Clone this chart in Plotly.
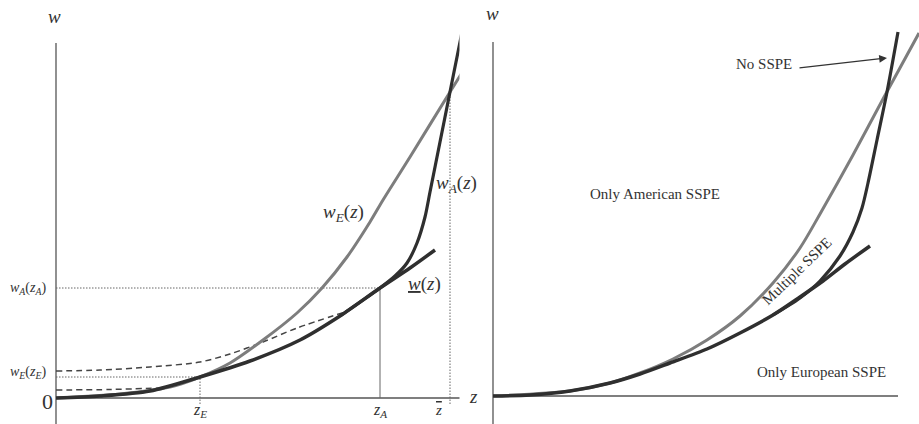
import plotly.graph_objects as go

# ---- left panel: z on the horizontal axis, w on the vertical axis ----
z_low = [0, 0.44, 0.94, 1.44, 1.94, 2.44, 2.84, 3.24, 3.54, 3.79]
w_low = [0, 0.02, 0.07, 0.21, 0.37, 0.58, 0.82, 1.10, 1.30, 1.48]

z_A_curve = [2.84, 3.24, 3.39, 3.51, 3.61, 3.69, 3.74, 3.84, 3.94, 4.01, 4.08]
w_A_curve = [0.82, 1.10, 1.22, 1.35, 1.55, 1.81, 2.06, 2.56, 3.06, 3.41, 3.76]

z_E_curve = [0, 0.64, 1.14, 1.44, 1.74, 2.07, 2.41, 2.66, 2.91, 3.14, 3.27, 3.54, 3.94, 4.17]
w_E_curve = [0, 0.04, 0.11, 0.21, 0.35, 0.58, 0.85, 1.10, 1.41, 1.76, 1.98, 2.41, 3.06, 3.43]

z_dash_hi = [0, 0.44, 0.94, 1.44, 1.74, 2.07, 2.41, 2.89]
w_dash_hi = [0.27, 0.28, 0.31, 0.36, 0.44, 0.56, 0.70, 0.86]

z_dash_lo = [0, 0.54, 1.04]
w_dash_lo = [0.08, 0.085, 0.10]

z_E, z_A, z_bar = 1.44, 3.24, 3.94
wE_zE, wA_zA, w_bar = 0.21, 1.10, 3.06

# ---- right panel ----
r_z_low = [0, 0.37, 0.77, 1.17, 1.47, 1.77, 2.14, 2.47, 2.80, 3.07, 3.30, 3.52, 3.77]
r_w_low = [0, 0.01, 0.05, 0.13, 0.22, 0.33, 0.47, 0.63, 0.81, 0.99, 1.15, 1.32, 1.50]

r_z_grey = [0, 0.77, 1.17, 1.47, 1.80, 2.14, 2.47, 2.80, 3.07, 3.27, 3.60, 3.90, 4.26]
r_w_grey = [0, 0.05, 0.13, 0.23, 0.37, 0.56, 0.80, 1.13, 1.48, 1.82, 2.41, 2.97, 3.63]

r_z_steep = [2.80, 3.07, 3.27, 3.47, 3.60, 3.69, 3.75, 3.84, 3.94, 4.05]
r_w_steep = [0.81, 0.98, 1.15, 1.40, 1.64, 1.88, 2.13, 2.56, 3.04, 3.64]

DARK = "#2f2f2f"
GREY = "#7d7d7d"
TXT = "#333333"
SERIF = "Liberation Serif, Times New Roman, serif"

fig = go.Figure()


def curve(x, y, color, width, axes, dash="solid", shape="spline"):
    fig.add_trace(go.Scatter(
        x=x, y=y, mode="lines", xaxis=axes[0], yaxis=axes[1],
        line=dict(color=color, width=width, dash=dash, shape=shape, smoothing=0.8),
        hoverinfo="skip", showlegend=False))


L = ("x", "y")
R = ("x2", "y2")

# axes drawn as lines
curve([0, 0], [-0.3, 3.55], "#555555", 1.3, L, shape="linear")
curve([0, 4.09], [0, 0], "#555555", 1.3, L, shape="linear")
curve([0, 0], [-0.3, 3.54], "#555555", 1.3, R, shape="linear")
curve([0, 4.05], [0, 0], "#555555", 1.3, R, shape="linear")

# dotted guides
DOT = "1.5px,1.5px"
curve([0, z_A], [wA_zA, wA_zA], "#666666", 1, L, dash=DOT, shape="linear")
curve([z_A, z_A], [0, wA_zA], "#666666", 1, L, shape="linear")
curve([0, z_E], [wE_zE, wE_zE], "#666666", 1, L, dash=DOT, shape="linear")
curve([z_E, z_E], [-0.06, wE_zE], "#666666", 1, L, dash=DOT, shape="linear")
curve([z_bar, z_bar], [-0.06, w_bar], "#666666", 1, L, dash=DOT, shape="linear")

# dashed value curves
curve(z_dash_hi, w_dash_hi, "#444444", 1.5, L, dash="6px,4px")
curve(z_dash_lo, w_dash_lo, "#444444", 1.5, L, dash="6px,4px")

# left curves
curve(z_E_curve, w_E_curve, GREY, 3, L)
curve(z_low, w_low, DARK, 3.5, L)
curve(z_A_curve, w_A_curve, DARK, 3.2, L)

# right curves
curve(r_z_grey, r_w_grey, GREY, 3, R)
curve(r_z_low, r_w_low, DARK, 3.5, R)
curve(r_z_steep, r_w_steep, DARK, 3.2, R)


def label(x, y, text, axes, size, angle=0):
    fig.add_annotation(x=x, y=y, xref=axes[0], yref=axes[1], text=text,
                       showarrow=False, textangle=angle,
                       font=dict(family=SERIF, size=size, color=TXT))


label(-0.02, 3.82, "<i>w</i>", L, 19)
label(-0.01, 3.83, "<i>w</i>", R, 19)
label(-0.28, wA_zA, "<i>w</i><sub><i>A</i></sub>(<i>z</i><sub><i>A</i></sub>)", L, 14)
label(-0.28, wE_zE + 0.05, "<i>w</i><sub><i>E</i></sub>(<i>z</i><sub><i>E</i></sub>)", L, 14)
label(-0.09, -0.03, "0", L, 22)
label(z_E, -0.12, "<i>z</i><sub><i>E</i></sub>", L, 16)
label(z_A, -0.12, "<i>z</i><sub><i>A</i></sub>", L, 16)
label(z_bar - 0.12, -0.12, '<span style="text-decoration:overline"><i>z</i></span>', L, 15)
label(4.17, 0.02, "<i>z</i>", L, 19)
label(2.87, 1.85, "<i>w</i><sub><i>E</i></sub>(<i>z</i>)", L, 19)
label(4.00, 2.14, "<i>w</i><sub><i>A</i></sub>(<i>z</i>)", L, 19)
label(3.68, 1.14, "<u><i>w</i></u>(<i>z</i>)", L, 19)

label(2.71, 3.32, "No SSPE", R, 15)
label(1.62, 2.02, "Only American SSPE", R, 15)
label(3.04, 1.25, "Multiple SSPE", R, 15, angle=-44)
label(3.28, 0.24, "Only European SSPE", R, 15)

fig.add_annotation(x=3.94, y=3.38, ax=3.05, ay=3.28, xref="x2", yref="y2",
                   axref="x2", ayref="y2", text="", showarrow=True,
                   arrowhead=2, arrowsize=1.2, arrowwidth=1.3, arrowcolor="#333333")

W, H = 919, 424
left_dom = [0, 0.53]
right_dom = [0.5, 1]
# 100 px per data unit, origin of each panel placed where the reference puts it
fig.update_layout(
    width=W, height=H,
    margin=dict(l=0, r=0, t=0, b=0),
    paper_bgcolor="white", plot_bgcolor="white",
    showlegend=False,
    xaxis=dict(domain=left_dom, range=[(0 - 56) / 100, (left_dom[1] * W - 56) / 100], visible=False),
    yaxis=dict(domain=[0, 1], range=[(398 - H) / 100, 398 / 100], visible=False),
    xaxis2=dict(domain=right_dom, range=[(right_dom[0] * W - 493) / 100, (W - 493) / 100], visible=False),
    yaxis2=dict(domain=[0, 1], range=[(396 - H) / 100, 396 / 100], visible=False, anchor="x2"),
)

# drop the page's default body margin so the figure sits at the window's corner
fig.write_html("out.html", config={"displayModeBar": False},
               post_script="document.body.style.margin='0px';")
